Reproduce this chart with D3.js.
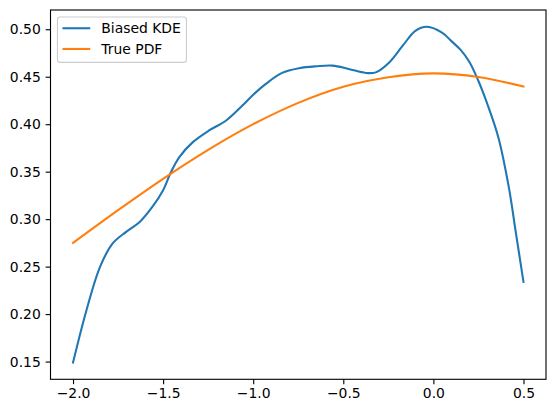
<!DOCTYPE html>
<html>
<head>
<meta charset="utf-8">
<script src="https://cdn.jsdelivr.net/npm/d3@7"></script>
<style>
  html, body { margin: 0; padding: 0; background: #fff; }
  svg { display: block; }
  text { font-family: "DejaVu Sans", sans-serif; }
</style>
</head>
<body>
<svg id="chart" width="556" height="413"></svg>
<script>
// ---- data ----
const kdeX = [-2.0, -1.925, -1.85, -1.78, -1.705, -1.63, -1.56, -1.50, -1.46, -1.41, -1.335, -1.245,
              -1.15, -1.06, -1.0, -0.93, -0.84, -0.745, -0.65, -0.56, -0.47, -0.375, -0.32, -0.245, -0.17,
              -0.10, -0.035, 0.05, 0.10, 0.15, 0.20, 0.25, 0.30, 0.36, 0.42, 0.457, 0.5];
const kdeY = [0.149, 0.2044, 0.2498, 0.2744, 0.2866, 0.297, 0.3128, 0.3304, 0.348, 0.3653, 0.3811, 0.3934,
              0.4039, 0.4196, 0.431, 0.4424, 0.454, 0.459, 0.461, 0.4617, 0.4582, 0.454, 0.4546, 0.4651, 0.4827,
              0.4984, 0.5026, 0.4962, 0.4875, 0.4785, 0.4655, 0.4455, 0.421, 0.3865, 0.3321, 0.2866, 0.234];
const pdfX = [-2.0, -1.75, -1.5, -1.25, -1.0, -0.75, -0.5, -0.25, 0.0, 0.25, 0.5];
const pdfY = [0.275, 0.3095, 0.3425, 0.373, 0.4, 0.4225, 0.4395, 0.4495, 0.4535, 0.4498, 0.4396];
const seriesNames = ["Biased KDE", "True PDF"];
const seriesColors = ["#1f77b4", "#ff7f0e"];
const xTicks = [-2.0, -1.5, -1.0, -0.5, 0.0, 0.5];
const yTicks = [0.15, 0.20, 0.25, 0.30, 0.35, 0.40, 0.45, 0.50];

// ---- layout ----
const L = 50.5, R = 546, T = 10, B = 379.3;
const FS = 13.9;

const svg = d3.select("#chart");

const allX = kdeX.concat(pdfX), allY = kdeY.concat(pdfY);
const [x0, x1] = d3.extent(allX), [y0, y1] = d3.extent(allY);
const mx = (x1 - x0) * 0.05, my = (y1 - y0) * 0.05;
const x = d3.scaleLinear().domain([x0 - mx, x1 + mx]).range([L, R]);
const y = d3.scaleLinear().domain([y0 - my, y1 + my]).range([B, T]);

// lines
const line = d3.line().x(d => x(d[0])).y(d => y(d[1])).curve(d3.curveCatmullRom.alpha(0.5));
const series = [d3.zip(kdeX, kdeY), d3.zip(pdfX, pdfY)];
const g = svg.append("g");
series.forEach((s, i) => {
  g.append("path").datum(s)
    .attr("d", line)
    .attr("fill", "none")
    .attr("stroke", seriesColors[i])
    .attr("stroke-width", 2.08)
    .attr("stroke-linecap", "square")
    .attr("stroke-linejoin", "round");
});

// axes
const fmtMinus = s => s.replace("-", "\u2212");
const xAxis = d3.axisBottom(x).tickValues(xTicks).tickSizeOuter(0).tickSize(4.86).tickPadding(4.3)
  .tickFormat(d => fmtMinus(d3.format(".1f")(d)));
const yAxis = d3.axisLeft(y).tickValues(yTicks).tickSizeOuter(0).tickSize(4.86).tickPadding(4.86)
  .tickFormat(d3.format(".2f"));

const gx = svg.append("g").attr("transform", `translate(0,${B})`).call(xAxis);
const gy = svg.append("g").attr("transform", `translate(${L},0)`).call(yAxis);
[gx, gy].forEach(a => {
  a.select(".domain").remove();
  a.selectAll(".tick line").attr("stroke", "#000").attr("stroke-width", 1.11);
  a.selectAll(".tick text").attr("fill", "#000").style("font-size", FS + "px")
    .style("font-family", "'DejaVu Sans', sans-serif");
});

// frame
svg.append("rect").attr("x", L).attr("y", T).attr("width", R - L).attr("height", B - T)
  .attr("fill", "none").attr("stroke", "#000").attr("stroke-width", 1.11);

// legend
const lg = svg.append("g");
const lgX = L + 6.95, lgY = T + 6.95;
const box = lg.append("rect").attr("x", lgX).attr("y", lgY).attr("rx", 2.8).attr("ry", 2.8)
  .attr("fill", "#fff").attr("fill-opacity", 0.8).attr("stroke", "#cccccc").attr("stroke-width", 1.11);
let maxW = 0;
seriesNames.forEach((name, i) => {
  const cy = lgY + 11.3 + i * 20.7;
  lg.append("line").attr("x1", lgX + 5).attr("x2", lgX + 5 + 27.8).attr("y1", cy).attr("y2", cy)
    .attr("stroke", seriesColors[i]).attr("stroke-width", 2.08);
  const t = lg.append("text").attr("x", lgX + 5 + 27.8 + 11.1).attr("y", cy).attr("dy", "0.36em")
    .style("font-size", FS + "px").attr("fill", "#000").text(name);
  maxW = Math.max(maxW, t.node().getComputedTextLength());
});
box.attr("width", 5 + 27.8 + 11.1 + maxW + 5.6).attr("height", 45.4);
</script>
</body>
</html>
